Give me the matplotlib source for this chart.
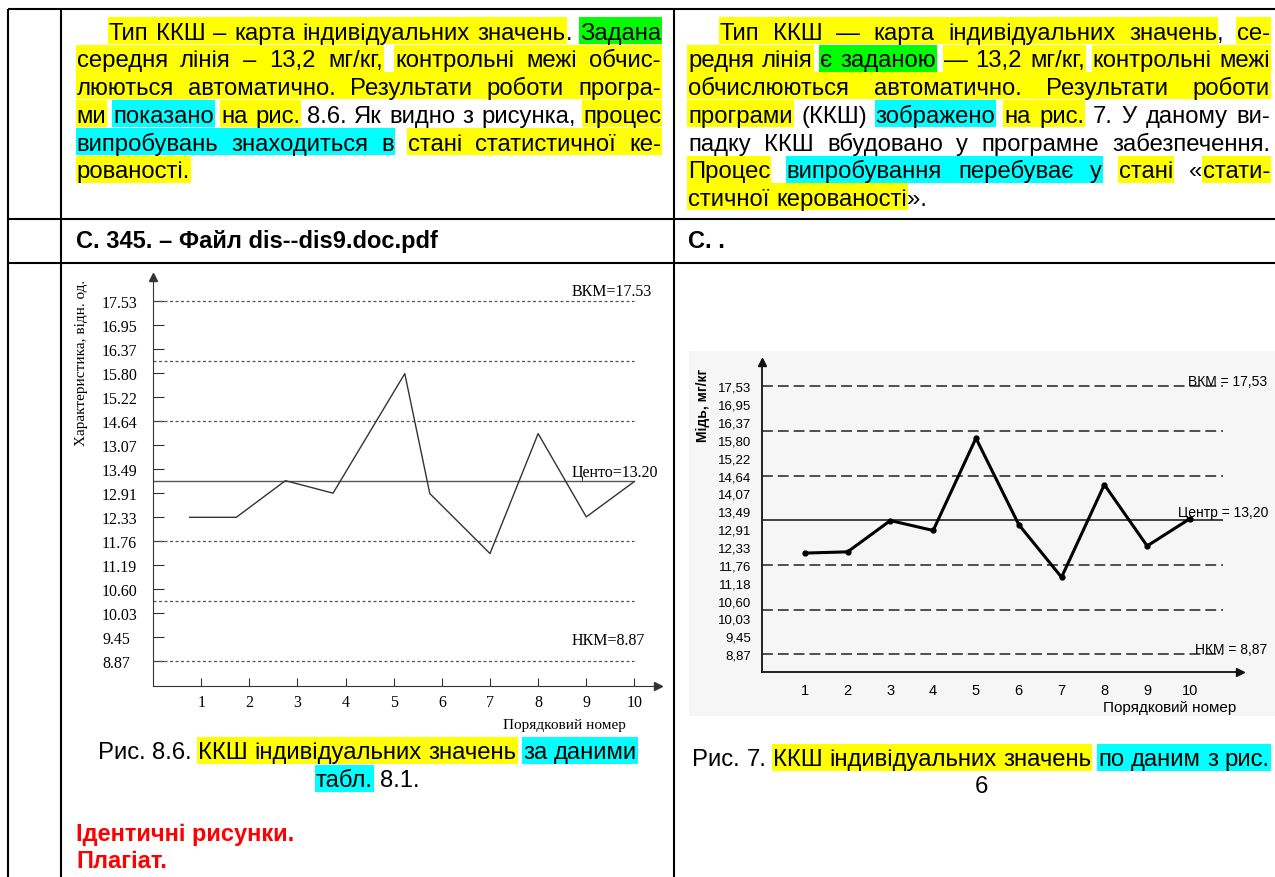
#!/usr/bin/env python3

import matplotlib
matplotlib.use('Agg')
import matplotlib.pyplot as plt
from matplotlib.patches import Rectangle

W, H = 1275, 878
YEL, CYA, GRN = '#ffff00', '#00ffff', '#00ff00'
SANS = ['Liberation Sans', 'DejaVu Sans']
NARROW = ['Liberation Sans Narrow', 'Liberation Sans', 'DejaVu Sans']
SERIF = ['Liberation Serif', 'DejaVu Serif']
BODY = 17.2

# control chart values
y_ticks = [17.53, 16.95, 16.37, 15.80, 15.22, 14.64, 14.07, 13.49,
	12.91, 12.33, 11.76, 11.18, 10.60, 10.03, 9.45, 8.87]
left_ylabels = ['17.53', '16.95', '16.37', '15.80', '15.22', '14.64', '13.07', '13.49',
	'12.91', '12.33', '11.76', '11.19', '10.60', '10.03', '9.45', '8.87']
right_ylabels = ['17,53', '16,95', '16,37', '15,80', '15,22', '14,64', '14,07', '13,49',
	'12,91', '12,33', '11,76', '11,18', '10,60', '10,03', '9,45', '8,87']
x_ticks = [1, 2, 3, 4, 5, 6, 7, 8, 9, 10]
limits = [17.53, 16.09, 14.64, 11.76, 10.31, 8.87]
center_val = 13.20
left_x = [0.76, 1.73, 2.75, 3.74, 5.23, 5.75, 7.0, 8.0, 9.0, 10.0]
left_y = [12.33, 12.33, 13.21, 12.91, 15.78, 12.90, 11.46, 14.34, 12.34, 13.19]
right_y = [12.14, 12.18, 13.19, 12.87, 15.85, 13.06, 11.36, 14.35, 12.37, 13.25]

# text lines: (segment, highlight); a leading space means a word gap before it
left_par = [
	[('Тип ККШ – карта індивідуальних значень', YEL), ('.', None), (' Задана', GRN)],
	[('середня лінія – 13,2 мг/кг,', YEL), (' контрольні межі обчис-', YEL)],
	[('люються автоматично. Результати роботи програ-', YEL)],
	[('ми', YEL), (' показано', CYA), (' на рис.', YEL), (' 8.6. Як видно з рисунка,', None), (' процес', YEL)],
	[('випробувань знаходиться в', CYA), (' стані статистичної ке-', YEL)],
	[('рованості.', YEL)],
]
right_par = [
	[('Тип ККШ — карта індивідуальних значень', YEL), (',', None), (' се-', YEL)],
	[('редня лінія', YEL), (' є заданою', GRN), (' — 13,2 мг/кг,', YEL), (' контрольні межі', YEL)],
	[('обчислюються автоматично. Результати роботи', YEL)],
	[('програми', YEL), (' (ККШ)', None), (' зображено', CYA), (' на рис.', YEL), (' 7. У даному ви-', None)],
	[('падку ККШ вбудовано у програмне забезпечення.', None)],
	[('Процес', YEL), (' випробування перебуває у', CYA), (' стані', YEL), (' «', None), ('стати-', YEL)],
	[('стичної керованості', YEL), ('».', None)],
]
left_caption = [
	[('Рис. 8.6.', None), (' ККШ індивідуальних значень', YEL), (' за даними', CYA)],
	[('табл.', CYA), (' 8.1.', None)],
]
right_caption = [
	[('Рис. 7.', None), (' ККШ індивідуальних значень', YEL), (' по даним з рис.', CYA)],
	[('6', None)],
]
verdict = ['Ідентичні рисунки.', 'Плагіат.']
left_source = 'С. 345. – Файл dis--dis9.doc.pdf'
right_source = 'С. .'


def px_axes(fig, x0, y0, x1, y1):
	return fig.add_axes([x0 / W, 1 - y1 / H, (x1 - x0) / W, (y1 - y0) / H])


def put_line(fig, bg, segs, x0, x1, yc, mode='justify', size=BODY):
	rend = fig.canvas.get_renderer()
	words = []
	for k, (txt, hl) in enumerate(segs):
		for j, w in enumerate(txt.split()):
			t = bg.text(0, yc + size * 0.48, w, fontsize=size, family=SANS,
				ha='left', va='baseline', zorder=3)
			wd = t.get_window_extent(rend).width
			words.append([t, wd, k, j > 0 or txt.startswith(' ')])
	gap = size * 100 / 72 * 0.278
	nsp = sum(1 for w in words[1:] if w[3])
	total = sum(w[1] for w in words)
	if mode == 'justify' and nsp:
		gap = (x1 - x0 - total) / nsp
	x = x0
	if mode == 'center':
		x = (x0 + x1) / 2 - (total + nsp * gap) / 2
	xs = []
	for i, w in enumerate(words):
		if i > 0 and w[3]:
			x += gap
		w[0].set_x(x)
		xs.append(x)
		x += w[1]
	for k, (txt, hl) in enumerate(segs):
		if hl is None:
			continue
		idx = [i for i, w in enumerate(words) if w[2] == k]
		a = xs[idx[0]]
		b = xs[idx[-1]] + words[idx[-1]][1]
		bg.add_patch(Rectangle((a - 1, yc - 13.5), b - a + 2, 27, color=hl, lw=0, zorder=1))


def put_par(fig, bg, lines, x0, x1, indent, ytop, step=27.7):
	for i, segs in enumerate(lines):
		mode = 'left' if i == len(lines) - 1 else 'justify'
		put_line(fig, bg, segs, x0 + (indent if i == 0 else 0), x1, ytop + i * step, mode)


def axis_arrows(ax, color):
	for s in ['top', 'right']:
		ax.spines[s].set_visible(False)
	for s in ['left', 'bottom']:
		ax.spines[s].set_color(color)
	ax.plot([0], [1], marker='^', color=color, ms=6, transform=ax.transAxes, clip_on=False)
	ax.plot([1], [0], marker='>', color=color, ms=6, transform=ax.transAxes, clip_on=False)


def left_chart(fig, bg):
	ax = px_axes(fig, 153, 278, 658, 687)
	ax.patch.set_alpha(0)
	ax.set_xlim(0, 10.49)
	ax.set_ylim(8.28, 18.10)
	axis_arrows(ax, '#333333')
	ax.hlines(limits, 0, 10, colors='#555555', linestyles=(0, (2.4, 2)), lw=0.9)
	ax.hlines(center_val, 0, 10, colors='#555555', lw=1)
	ax.plot(left_x, left_y, color='#333333', lw=1)
	ax.set_yticks(y_ticks)
	ax.set_yticklabels(left_ylabels, family=SERIF, fontsize=11.5)
	for lab in ax.get_yticklabels():
		lab.set_horizontalalignment('left')
	ax.tick_params(axis='y', direction='in', length=8, pad=36.7, color='#333333')
	ax.set_xticks(x_ticks)
	ax.set_xticklabels([str(v) for v in x_ticks], family=SERIF, fontsize=11.5)
	ax.tick_params(axis='x', direction='in', length=6, pad=5.5, color='#333333')
	ax.text(8.70, 17.76, 'ВКМ=17.53', family=SERIF, fontsize=11.5, va='center')
	ax.text(8.70, 13.42, 'Центо=13.20', family=SERIF, fontsize=11.5, va='center')
	ax.text(8.70, 9.38, 'НКМ=8.87', family=SERIF, fontsize=11.5, va='center')
	bg.text(82, 363, 'Характеристика, відн. од.', rotation=90, ha='center', va='center',
		family=SERIF, fontsize=11)
	bg.text(564, 726, 'Порядковий номер', ha='center', va='center', family=SERIF, fontsize=11)


def right_chart(fig, bg):
	bg.add_patch(Rectangle((689, 352), 586, 365, color='#f6f6f6', lw=0, zorder=0))
	ax = px_axes(fig, 762, 363, 1240, 673)
	ax.patch.set_alpha(0)
	ax.set_xlim(0, 11.17)
	ax.set_ylim(8.30, 18.31)
	axis_arrows(ax, '#111111')
	for s in ['left', 'bottom']:
		ax.spines[s].set_linewidth(1.3)
	ax.hlines(limits, 0, 10.77, colors='#333333', linestyles=(0, (6.5, 3)), lw=1.2)
	ax.hlines(center_val, 0, 10.77, colors='#222222', lw=1.2)
	ax.plot(x_ticks, right_y, color='black', lw=2.2, marker='o', ms=3.5)
	ax.set_yticks(y_ticks)
	ax.set_yticklabels(right_ylabels, family=NARROW, fontsize=9.5)
	ax.tick_params(axis='y', length=0, pad=7.8)
	ax.set_xticks(x_ticks)
	ax.set_xticklabels([str(v) for v in x_ticks], family=NARROW, fontsize=10.5)
	ax.tick_params(axis='x', length=0, pad=8)
	ax.text(9.96, 17.70, 'ВКМ = 17,53', family=NARROW, fontsize=10, va='center')
	ax.text(9.73, 13.46, 'Центр = 13,20', family=NARROW, fontsize=10, va='center')
	ax.text(10.13, 9.03, 'НКМ = 8,87', family=NARROW, fontsize=10, va='center')
	bg.text(703, 405, 'Мідь, мг/кг', rotation=90, ha='center', va='center',
		family=NARROW, fontweight='bold', fontsize=10)
	bg.text(1170, 708, 'Порядковий номер', ha='center', va='center', family=NARROW, fontsize=11)


def main():
	fig = plt.figure(figsize=(W / 100, H / 100), dpi=100)
	bg = fig.add_axes([0, 0, 1, 1])
	bg.set_xlim(0, W)
	bg.set_ylim(H, 0)
	bg.axis('off')

	# table grid
	for y in [10, 220, 264]:
		bg.plot([8, W], [y, y], color='black', lw=1.5, solid_capstyle='butt')
	for x in [8, 61, 674]:
		bg.plot([x, x], [10, H], color='black', lw=1.5, solid_capstyle='butt')

	put_par(fig, bg, left_par, 76.5, 661, 32, 31.5)
	put_par(fig, bg, right_par, 688, 1270, 32, 31.5)

	bg.text(76, 242, left_source, fontsize=17, fontweight='bold', family=SANS, va='center')
	bg.text(688, 242, right_source, fontsize=17, fontweight='bold', family=SANS, va='center')

	left_chart(fig, bg)
	right_chart(fig, bg)

	put_line(fig, bg, left_caption[0], 61, 674, 751, 'center')
	put_line(fig, bg, left_caption[1], 61, 674, 779, 'center')
	put_line(fig, bg, right_caption[0], 674, 1288, 758, 'center')
	put_line(fig, bg, right_caption[1], 674, 1288, 785, 'center')
	for i, s in enumerate(verdict):
		bg.text(76, 835 + i * 27, s, color='#ff0000', fontsize=17, fontweight='bold',
			family=SANS, va='center')

	fig.savefig('out.png', dpi=100)


if __name__ == "__main__":
	main()
